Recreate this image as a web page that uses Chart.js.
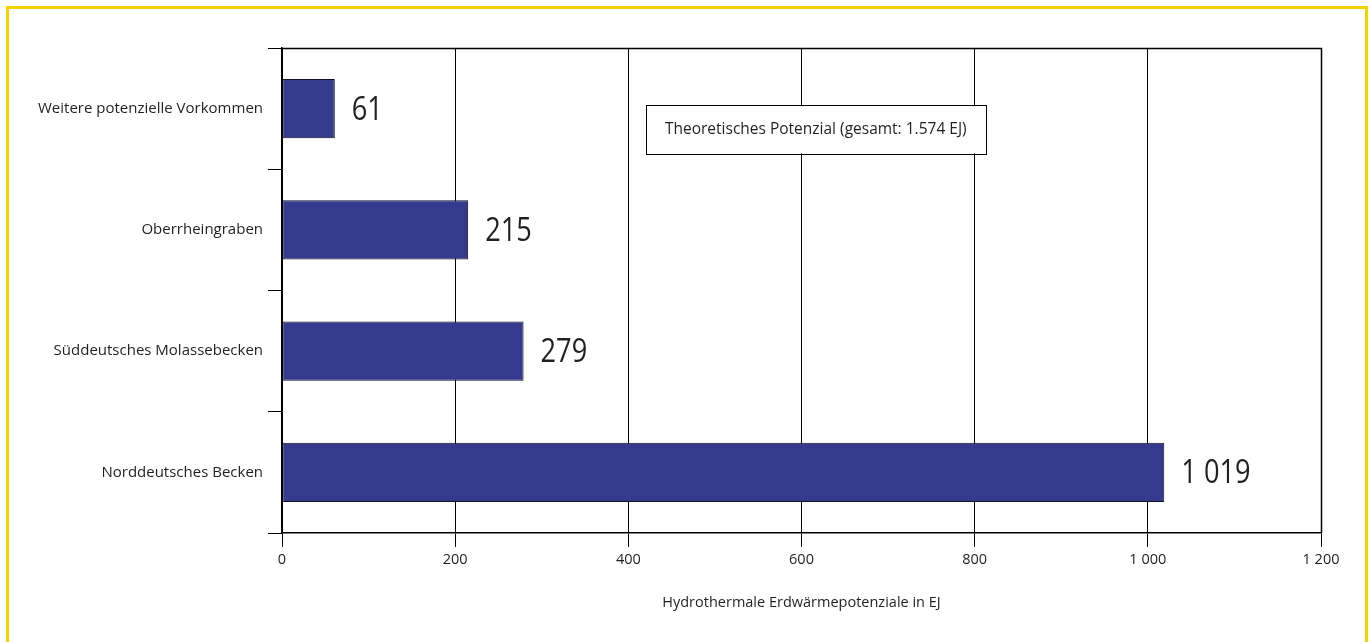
<!DOCTYPE html>
<html>
<head>
<meta charset="utf-8">
<script src="https://cdn.jsdelivr.net/npm/chart.js@4.4.1/dist/chart.umd.min.js"></script>
<style>
  html, body { margin: 0; padding: 0; background: #fff; }
  #wrap { position: relative; width: 1370px; height: 642px; overflow: hidden; }
  #frame { position: absolute; left: 6px; top: 6px; width: 1356px; height: 700px;
           border: 3px solid #F7D200; box-sizing: content-box; }
  canvas { position: absolute; left: 0; top: 0; }
</style>
</head>
<body>
<div id="wrap">
  <div id="frame"></div>
  <canvas id="c" width="1370" height="642"></canvas>
</div>
<script>
const categories = [
  'Weitere potenzielle Vorkommen',
  'Oberrheingraben',
  'Süddeutsches Molassebecken',
  'Norddeutsches Becken'
];
const values = [61, 215, 279, 1019];
const valueLabels = ['61', '215', '279', '1 019'];
const xTicks = [0, 200, 400, 600, 800, 1000, 1200];
const xTickLabels = ['0', '200', '400', '600', '800', '1 000', '1 200'];
const axisTitle = 'Hydrothermale Erdwärmepotenziale in EJ';
const boxText = 'Theoretisches Potenzial (gesamt: 1.574 EJ)';
const boxRange = [420, 813];

const FONT = "'Open Sans', 'Noto Sans', sans-serif";
const TXT = '#231f20';

const extras = {
  id: 'extras',
  afterDatasetsDraw(chart) {
    const ctx = chart.ctx;
    const a = chart.chartArea;
    const xs = chart.scales.x;
    // frame top & right
    ctx.save();
    ctx.strokeStyle = '#000';
    ctx.lineWidth = 1.5;
    ctx.beginPath();
    ctx.moveTo(a.left, a.top + 0.5);
    ctx.lineTo(a.right + 0.5, a.top + 0.5);
    ctx.lineTo(a.right + 0.5, a.bottom);
    ctx.stroke();
    ctx.restore();

    // value labels
    const meta = chart.getDatasetMeta(0);
    ctx.save();
    ctx.fillStyle = TXT;
    ctx.font = "32px " + FONT;
    ctx.textBaseline = 'middle';
    meta.data.forEach((bar, i) => {
      const x = bar.x + 17;
      const y = bar.y + 2;
      ctx.save();
      ctx.translate(x, y);
      ctx.scale(0.85, 1);
      ctx.fillText(valueLabels[i], 0, 0);
      ctx.restore();
    });
    ctx.restore();

    // annotation box
    const band = (a.bottom - a.top) / categories.length;
    const bx1 = xs.getPixelForValue(boxRange[0]);
    const bx2 = xs.getPixelForValue(boxRange[1]);
    const by1 = a.top + band * 0.47;
    const by2 = a.top + band * 0.87;
    ctx.save();
    ctx.fillStyle = '#fff';
    ctx.fillRect(bx1, by1, bx2 - bx1, by2 - by1);
    ctx.strokeStyle = '#000';
    ctx.lineWidth = 1;
    ctx.strokeRect(Math.round(bx1) + 0.5, Math.round(by1) + 0.5, Math.round(bx2 - bx1), Math.round(by2 - by1));
    ctx.fillStyle = TXT;
    ctx.font = "15.5px " + FONT;
    ctx.textAlign = 'center';
    ctx.textBaseline = 'middle';
    ctx.fillText(boxText, (bx1 + bx2) / 2, (by1 + by2) / 2);
    ctx.restore();
  }
};

new Chart(document.getElementById('c'), {
  type: 'bar',
  data: {
    labels: categories,
    datasets: [{
      data: values,
      backgroundColor: '#363a8e',
      borderColor: '#111122',
      borderWidth: 1,
      borderSkipped: false,
      categoryPercentage: 1,
      barPercentage: 0.49
    }]
  },
  options: {
    indexAxis: 'y',
    responsive: false,
    animation: false,
    devicePixelRatio: 1,
    layout: { padding: { top: 48, right: 49, left: 0, bottom: 0 } },
    plugins: { legend: { display: false }, tooltip: { enabled: false } },
    scales: {
      x: {
        type: 'linear',
        min: 0, max: 1200,
        afterBuildTicks(scale) { scale.ticks = xTicks.map(v => ({ value: v })); },
        afterFit(scale) { scale.height = 109; },
        ticks: {
          color: TXT,
          font: { family: FONT, size: 14.5 },
          padding: 4,
          maxRotation: 0,
          callback(v) { const i = xTicks.indexOf(v); return i >= 0 ? xTickLabels[i] : ''; }
        },
        grid: { color: '#000', lineWidth: 1, tickLength: 14, drawOnChartArea: true },
        border: { color: '#000', width: 1.5 },
        title: {
          display: true,
          text: axisTitle,
          color: TXT,
          font: { family: FONT, size: 14.5 },
          padding: { top: 0, bottom: 30 }
        }
      },
      y: {
        afterFit(scale) { scale.width = 282; },
        ticks: {
          color: TXT,
          font: { family: FONT, size: 15 },
          padding: 5
        },
        grid: { offset: true, color: '#000', lineWidth: 1, tickLength: 14, drawOnChartArea: false },
        border: { color: '#000', width: 1.5 }
      }
    }
  },
  plugins: [extras]
});
</script>
</body>
</html>
